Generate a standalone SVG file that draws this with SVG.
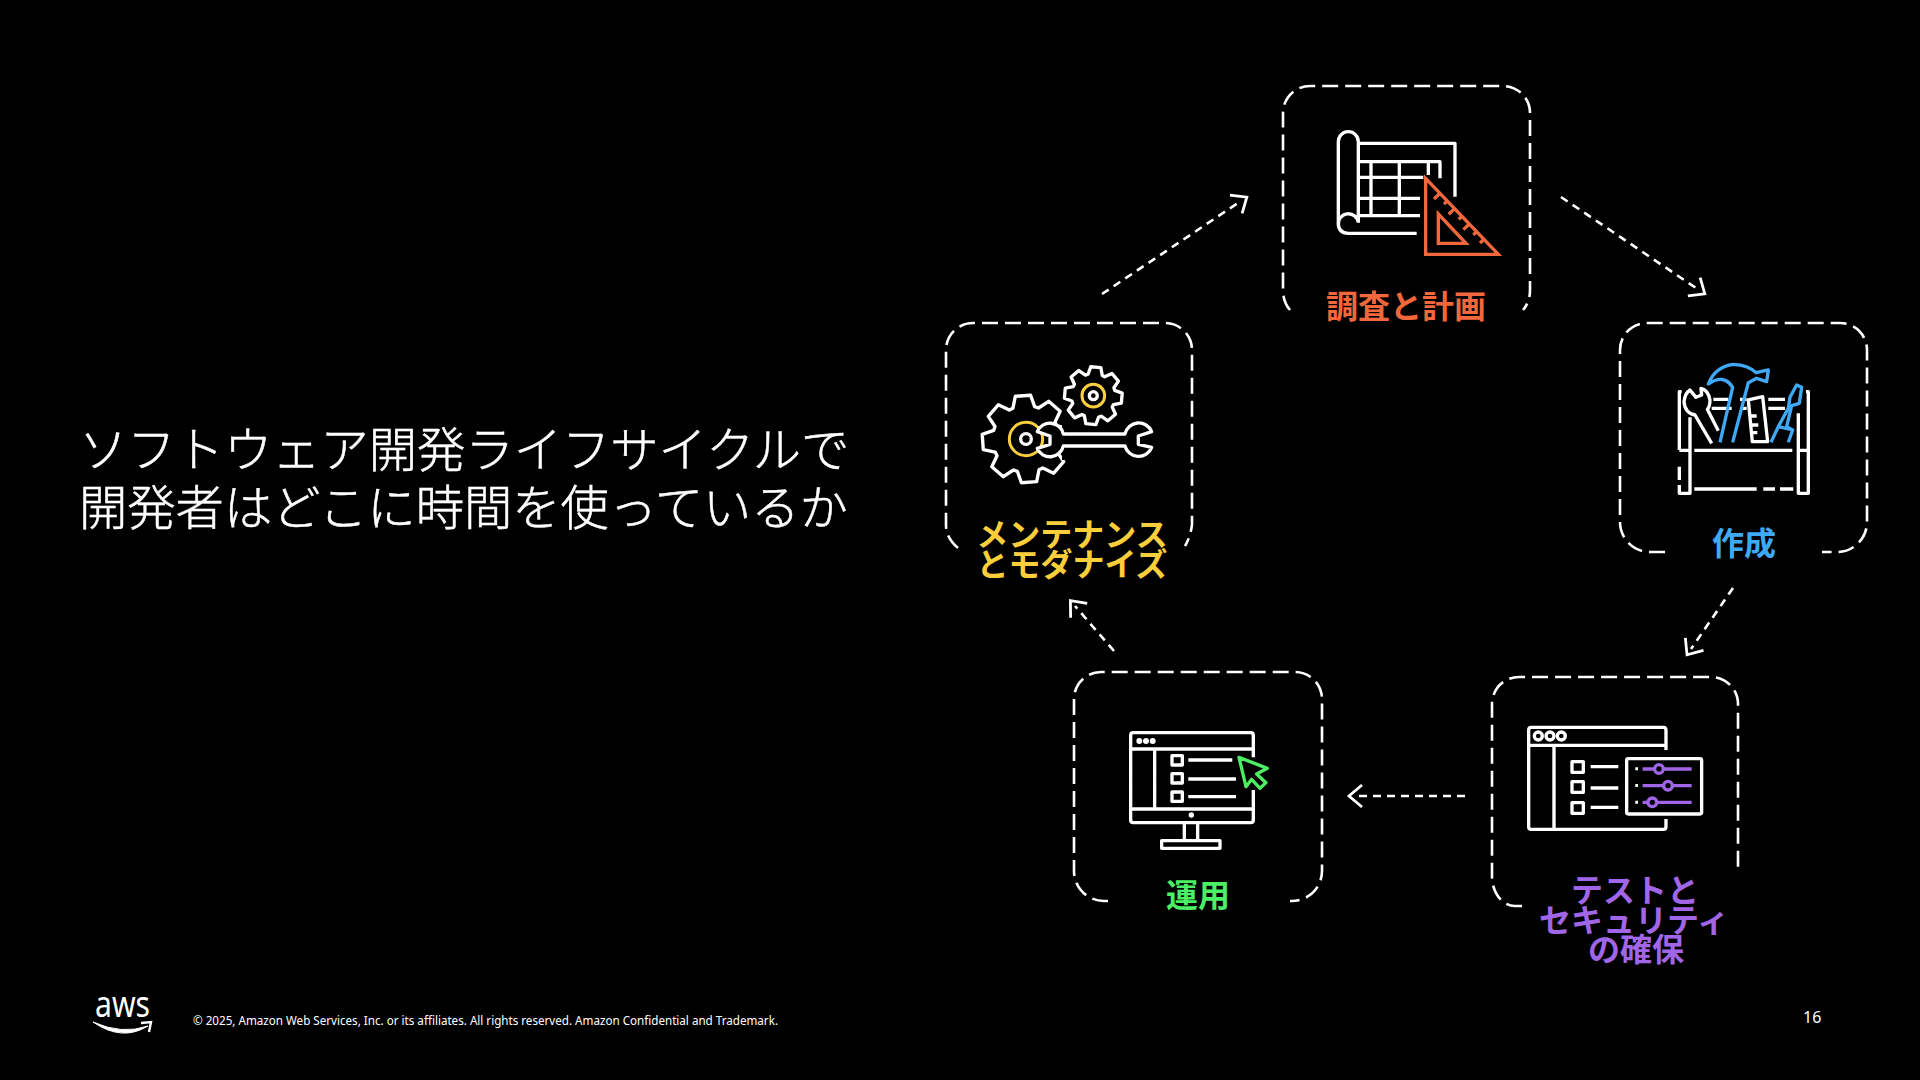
<svg xmlns="http://www.w3.org/2000/svg" width="1920" height="1080" viewBox="0 0 1920 1080">
<style>
.box{fill:none;stroke:#fff;stroke-width:2.6;stroke-dasharray:16 7;stroke-linecap:butt}
.arr{fill:none;stroke:#fff;stroke-width:2.6;stroke-dasharray:8 6}
.w{fill:none;stroke:#fff;stroke-width:10;stroke-linejoin:round}
.o{fill:none;stroke:#F2673C;stroke-width:10;stroke-linejoin:miter}
.b{fill:none;stroke:#3FA9F5;stroke-width:10;stroke-linejoin:round}
.y{fill:none;stroke:#FBCF3C;stroke-width:9}
.g{fill:none;stroke:#4CEE66;stroke-width:10;stroke-linejoin:round}
.p{fill:none;stroke:#A166E8;stroke-width:10}
.lab{font-family:"Noto Sans CJK JP","Noto Sans",sans-serif;font-weight:700;font-size:32px;text-anchor:middle}
.ttl{font-family:"Noto Sans CJK JP","Noto Sans",sans-serif;font-weight:300;font-size:48.3px;fill:#fff;stroke:#fff;stroke-width:.5}
.ft{font-family:"Noto Sans","Liberation Sans",sans-serif;fill:#fff}
</style>
<defs>
<marker id="ah" markerUnits="userSpaceOnUse" markerWidth="28" markerHeight="30" refX="12" refY="15" orient="auto">
<path d="M6 4L19 15L6 26" fill="none" stroke="#fff" stroke-width="2.8"/>
</marker>
<path id="gear" d="M-24.7-71.9L-17.4-98.5L17.4-98.5L24.7-71.9L33.3-68.3L57.4-81.9L81.9-57.4L68.3-33.3L71.9-24.7L98.5-17.4L98.5 17.4L71.9 24.7L68.3 33.3L81.9 57.4L57.4 81.9L33.3 68.3L24.7 71.9L17.4 98.5L-17.4 98.5L-24.7 71.9L-33.3 68.3L-57.4 81.9L-81.9 57.4L-68.3 33.3L-71.9 24.7L-98.5 17.4L-98.5-17.4L-71.9-24.7L-68.3-33.3L-81.9-57.4L-57.4-81.9L-33.3-68.3Z"/>
</defs>
<rect width="1920" height="1080" fill="#000"/>
<g id="title">
<text class="ttl" x="79" y="467">ソフトウェア開発ライフサイクルで</text>
<text class="ttl" x="79" y="525">開発者はどこに時間を使っているか</text>
</g>
<g id="connectors">
<path class="arr" d="M1102 294L1241 201" marker-end="url(#ah)"/>
<path class="arr" d="M1561 197L1699 290" marker-end="url(#ah)"/>
<path class="arr" d="M1733 588L1691 649" marker-end="url(#ah)"/>
<path class="arr" d="M1465 796L1356 796" marker-end="url(#ah)"/>
<path class="arr" d="M1114 651L1075 606" marker-end="url(#ah)"/>
</g>
<g id="node-research">
<path class="box" d="M1290 310Q1283 302 1283 290V113A27 27 0 0 1 1310 86H1503A27 27 0 0 1 1530 113V290Q1530 302 1523 310"/>
<g transform="translate(1260 70) scale(.3333)">
<path class="w" d="M295 458V215A30 30 0 0 0 235 215V460Q235 490 265 490H470M235 465A30 30 0 0 1 295 458M295 220H585V380M295 275H540V325M295 322H490M295 385H480M295 437H480M333 275V437M418 275V437M505 275V315"/>
<path class="o" d="M497 325L715 553H497ZM535 432L618 520H535ZM540 370L522 387M562 393L552 402M584 416L566 433M606 439L596 448M628 462L610 479M650 485L640 494M672 508L660 519"/>
</g>
<text class="lab" x="1406" y="318" fill="#F2673C">調査と計画</text>
</g>
<g id="node-build">
<path class="box" d="M1665 552H1650A30 30 0 0 1 1620 522V350A27 27 0 0 1 1647 323H1840A27 27 0 0 1 1867 350V522A30 30 0 0 1 1837 552H1822"/>
<g transform="translate(1600 310) scale(.3333)">
<path class="w" d="M245 245H238V420M238 470V510M238 525V550H270V322M238 421H270M618 245H625V550H595V310M595 421H625M283 421H577M283 537H470M490 537H525M540 537H580M340 268H385M335 295H395M505 268H555M505 295H555M420 295H440M420 268H440"/>
<path class="w" d="M335 400L285 315Q255 310 252 275Q255 250 270 240L288 262L305 255L303 235Q325 240 330 270Q330 290 322 298L355 362"/>
<path class="w" d="M445 270L488 260L503 395L457 395ZM453 318H470M456 345H475M459 368H472"/>
<path class="b" d="M360 397L398 232Q372 190 325 222Q345 170 400 163Q445 165 468 188L505 180L500 215L470 205L445 218L398 397"/>
<path class="b" d="M513 397L535 350L565 295L570 262L590 225L605 232L598 280L575 287L560 350L578 360L565 397M535 350L578 360"/>
</g>
<text class="lab" x="1744" y="555" fill="#3FA9F5">作成</text>
</g>
<g id="node-test">
<path class="box" d="M1522 906H1515A23 30 0 0 1 1492 876V704A27 27 0 0 1 1519 677H1711A27 27 0 0 1 1738 704V873"/>
<g transform="translate(1480 670) scale(.3333)">
<path class="w" d="M558 240V180Q558 172 550 172H154Q146 172 146 180V470Q146 478 154 478H550Q558 478 558 470V447M146 226H558M222 226V478M332 290H415M332 354H415M332 412H415"/>
<circle class="w" cx="175" cy="198" r="12"/><circle class="w" cx="210" cy="198" r="12"/><circle class="w" cx="244" cy="198" r="12"/>
<rect class="w" x="276" y="275" width="34" height="32"/><rect class="w" x="276" y="335" width="34" height="32"/><rect class="w" x="276" y="398" width="34" height="32"/>
<rect class="w" x="440" y="266" width="225" height="166" rx="5"/>
<path class="p" d="M488 297H635M488 347H635M488 397H635"/>
<circle class="p" style="fill:#000" cx="537" cy="297" r="13"/><circle class="p" style="fill:#000" cx="564" cy="347" r="13"/><circle class="p" style="fill:#000" cx="517" cy="397" r="13"/>
<path d="M466 292h8v9h-8zM466 342h8v9h-8zM466 392h8v9h-8z" fill="#fff"/>
</g>
<text class="lab" fill="#A166E8" x="1635" y="902">テストと</text>
<text class="lab" fill="#A166E8" x="1634" y="932">セキュリティ</text>
<text class="lab" fill="#A166E8" x="1636" y="961">の確保</text>
</g>
<g id="node-operate">
<path class="box" d="M1108 901H1104A30 30 0 0 1 1074 871V699A27 27 0 0 1 1101 672H1295A27 27 0 0 1 1322 699V871A30 30 0 0 1 1292 901H1290"/>
<g transform="translate(1060 660) scale(.3333)">
<path class="w" d="M580 292V226Q580 218 572 218H220Q212 218 212 226V480Q212 488 220 488H572Q580 488 580 480V390M212 267H580M284 267V447M212 447H580M373 490V540M413 490V540M385 300H517M385 357H528M385 410H528"/>
<rect class="w" x="305" y="542" width="175" height="23"/>
<rect class="w" x="336" y="287" width="31" height="28"/><rect class="w" x="336" y="341" width="31" height="28"/><rect class="w" x="336" y="396" width="31" height="28"/>
<circle cx="238" cy="243" r="9" fill="#fff"/><circle cx="258" cy="243" r="9" fill="#fff"/><circle cx="278" cy="243" r="9" fill="#fff"/>
<circle cx="394" cy="465" r="8" fill="#fff"/>
<path class="g" d="M537 292L622 325L590 342L618 368L600 385L575 358L558 380Z"/>
</g>
<text class="lab" x="1198" y="907" fill="#4CEE66">運用</text>
</g>
<g id="node-maintain">
<path class="box" d="M958 548Q946 538 946 525V350A27 27 0 0 1 973 323H1165A27 27 0 0 1 1192 350V525Q1190 538 1185 546"/>
<g transform="translate(930 310) scale(.3333)">
<use href="#gear" transform="translate(288 387) rotate(-4) scale(1.32)" style="fill:none;stroke:#fff;stroke-width:7.6;stroke-linejoin:round"/>
<rect x="396" y="325" width="50" height="125" fill="#000"/>
<circle class="y" cx="288" cy="387" r="50"/>
<circle class="w" cx="288" cy="387" r="16"/>
<use href="#gear" transform="translate(490 257) rotate(5) scale(.87)" style="fill:none;stroke:#fff;stroke-width:11.5;stroke-linejoin:round"/>
<circle class="y" cx="490" cy="257" r="34"/>
<circle class="w" cx="490" cy="257" r="12"/>
<path class="w" style="fill:#000" d="M400 372H585A42 42 0 0 1 665 365L625 378V403L665 412A42 42 0 0 1 585 408H400A41 41 0 0 1 322 415L360 403V378L322 365A41 41 0 0 1 400 372Z"/>
</g>
<text class="lab" fill="#FBCF3C" x="1072" y="546">メンテナンス</text>
<text class="lab" fill="#FBCF3C" x="1072" y="576">とモダナイズ</text>
</g>
<g id="footer">
<text class="ft" x="95" y="1017" font-size="36" textLength="55" lengthAdjust="spacingAndGlyphs">aws</text>
<path d="M93 1022Q122 1042 148 1026Q122 1035 93 1022Z" fill="#fff" stroke="#fff" stroke-width="1"/>
<path d="M141 1023L151 1022L149 1032" fill="none" stroke="#fff" stroke-width="2.4"/>
<text class="ft" x="193" y="1025" font-size="12" textLength="585" lengthAdjust="spacingAndGlyphs">© 2025, Amazon Web Services, Inc. or its affiliates. All rights reserved. Amazon Confidential and Trademark.</text>
<text class="ft" x="1803" y="1023" font-size="16">16</text>
</g>
</svg>
